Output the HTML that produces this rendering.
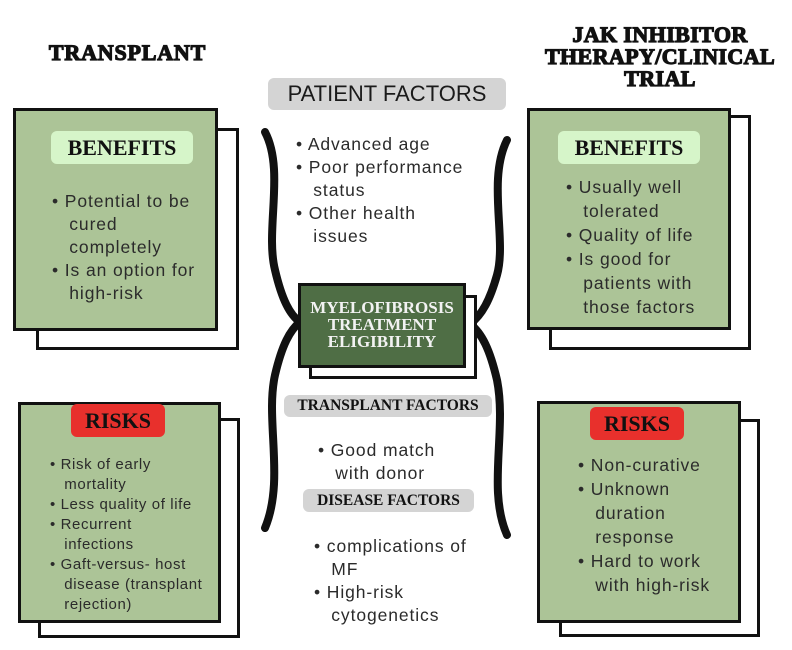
<!DOCTYPE html>
<html><head><style>
body{margin:0;width:792px;height:650px;background:#fff;position:relative;overflow:hidden;font-family:"Liberation Sans",sans-serif;color:#2b2b2b}
.a{position:absolute}
.box{position:absolute;background:#acc497;border:3px solid #111;box-sizing:border-box}
.sh{position:absolute;background:#fff;border:3px solid #111;box-sizing:border-box}
.t{position:absolute;font-size:17.5px;line-height:23px;white-space:nowrap;letter-spacing:0.9px}
.s{font-size:15px;line-height:20px;letter-spacing:0.6px}
.h{position:absolute;font-family:"Liberation Serif",serif;font-weight:bold;text-align:center;color:#111;-webkit-text-stroke:1.2px #111}
.lbl{position:absolute;border-radius:6px;font-family:"Liberation Serif",serif;font-weight:bold;text-align:center;color:#111}
</style></head><body>
<div class="h" style="left:40px;top:40px;width:175px;font-size:22px;letter-spacing:0.8px">TRANSPLANT</div>
<div class="h" style="left:535px;top:24px;width:250px;font-size:22px;line-height:22px;letter-spacing:0.4px">JAK INHIBITOR THERAPY/CLINICAL TRIAL</div>
<div class="lbl" style="left:268px;top:78px;width:238px;height:32px;background:#d4d4d4;font-size:22px;line-height:32px;font-weight:normal;font-family:'Liberation Sans',sans-serif;color:#1a1a1a">PATIENT FACTORS</div>

<svg class="a" style="left:0;top:0" width="792" height="650">
<path d="M265,132 C285,170 265,230 275,270 C282,300 290,315 300,322 C290,330 282,345 275,375 C265,420 285,480 265,528" fill="none" stroke="#111" stroke-width="8" stroke-linecap="round"/>
<path d="M507,140 C487,180 507,240 497,275 C490,300 482,315 470,324 C482,333 490,350 497,380 C507,430 487,490 507,535" fill="none" stroke="#111" stroke-width="8" stroke-linecap="round"/>
</svg>

<div class="t" style="left:296px;top:133px">• Advanced age<br>• Poor performance<br>&nbsp;&nbsp;&nbsp;status<br>• Other health<br>&nbsp;&nbsp;&nbsp;issues</div>

<div class="sh" style="left:309px;top:295px;width:168px;height:84px"></div>
<div class="box" style="left:298px;top:283px;width:168px;height:85px;background:#4f6e45"></div>
<div class="h" style="left:298px;top:299px;width:168px;font-size:17px;line-height:17px;color:#f2f2f2;-webkit-text-stroke:0">MYELOFIBROSIS<br>TREATMENT<br>ELIGIBILITY</div>

<div class="lbl" style="left:284px;top:395px;width:208px;height:22px;background:#d4d4d4;font-size:15.5px;line-height:22px">TRANSPLANT FACTORS</div>
<div class="t" style="left:318px;top:439px">• Good match<br>&nbsp;&nbsp;&nbsp;with donor</div>
<div class="lbl" style="left:303px;top:489px;width:171px;height:23px;background:#d4d4d4;font-size:15.5px;line-height:23px">DISEASE FACTORS</div>
<div class="t" style="left:314px;top:535px">• complications of<br>&nbsp;&nbsp;&nbsp;MF<br>• High-risk<br>&nbsp;&nbsp;&nbsp;cytogenetics</div>

<!-- left top -->
<div class="sh" style="left:36px;top:128px;width:203px;height:222px"></div>
<div class="box" style="left:13px;top:108px;width:205px;height:223px"></div>
<div class="lbl" style="left:51px;top:131px;width:142px;height:33px;background:#d6f5c9;font-size:22px;line-height:33px">BENEFITS</div>
<div class="t" style="left:52px;top:190px">• Potential to be<br>&nbsp;&nbsp;&nbsp;cured<br>&nbsp;&nbsp;&nbsp;completely<br>• Is an option for<br>&nbsp;&nbsp;&nbsp;high-risk</div>

<!-- left bottom -->
<div class="sh" style="left:38px;top:418px;width:202px;height:220px"></div>
<div class="box" style="left:18px;top:402px;width:203px;height:221px"></div>
<div class="lbl" style="left:71px;top:404px;width:94px;height:33px;background:#e8302c;font-size:22px;line-height:33px">RISKS</div>
<div class="t s" style="left:50px;top:455px">• Risk of early<br>&nbsp;&nbsp;&nbsp;mortality<br>• Less quality of life<br>• Recurrent<br>&nbsp;&nbsp;&nbsp;infections<br>• Gaft-versus- host<br>&nbsp;&nbsp;&nbsp;disease (transplant<br>&nbsp;&nbsp;&nbsp;rejection)</div>

<!-- right top -->
<div class="sh" style="left:549px;top:115px;width:202px;height:235px"></div>
<div class="box" style="left:527px;top:108px;width:204px;height:222px"></div>
<div class="lbl" style="left:558px;top:131px;width:142px;height:33px;background:#d6f5c9;font-size:22px;line-height:33px">BENEFITS</div>
<div class="t" style="left:566px;top:175px;line-height:24px">• Usually well<br>&nbsp;&nbsp;&nbsp;tolerated<br>• Quality of life<br>• Is good for<br>&nbsp;&nbsp;&nbsp;patients with<br>&nbsp;&nbsp;&nbsp;those factors</div>

<!-- right bottom -->
<div class="sh" style="left:559px;top:419px;width:201px;height:218px"></div>
<div class="box" style="left:537px;top:401px;width:204px;height:222px"></div>
<div class="lbl" style="left:590px;top:407px;width:94px;height:33px;background:#e8302c;font-size:22px;line-height:33px">RISKS</div>
<div class="t" style="left:578px;top:453px;line-height:24px">• Non-curative<br>• Unknown<br>&nbsp;&nbsp;&nbsp;duration<br>&nbsp;&nbsp;&nbsp;response<br>• Hard to work<br>&nbsp;&nbsp;&nbsp;with high-risk</div>
</body></html>
